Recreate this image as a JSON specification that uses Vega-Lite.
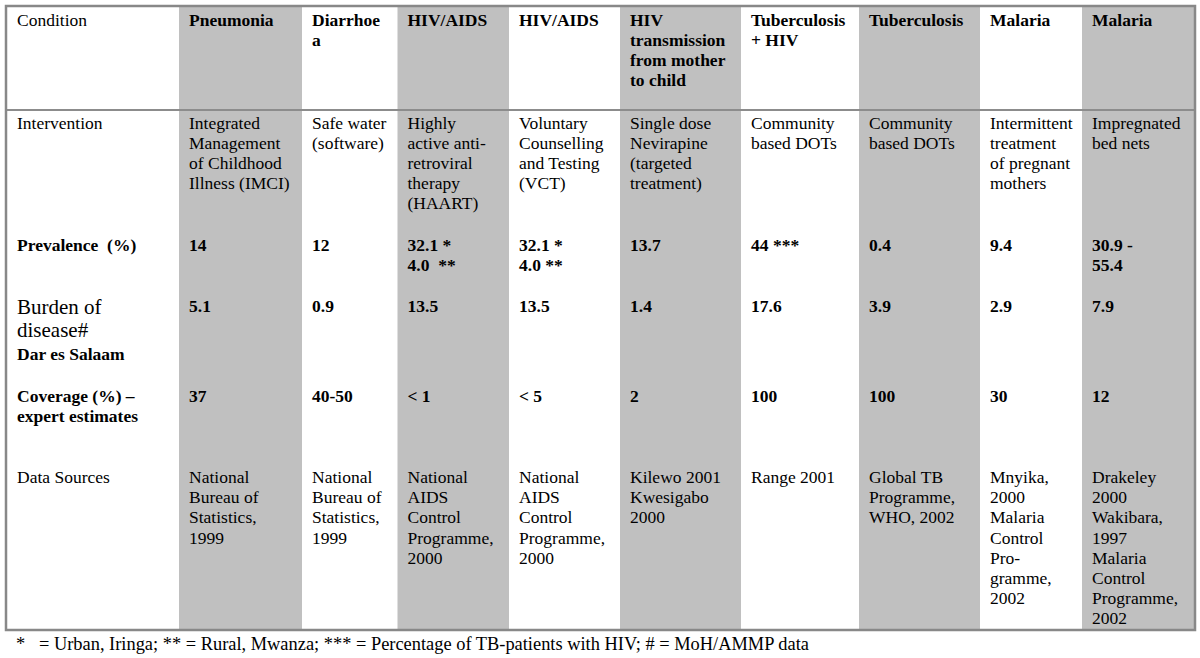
{
  "$schema": "https://vega.github.io/schema/vega-lite/v6.json",
  "width": 1200,
  "height": 658,
  "padding": 0,
  "autosize": {"type": "fit", "contains": "padding"},
  "background": "white",
  "view": {"stroke": null},
  "config": {"text": {"font": "Liberation Serif", "color": "black"}},
  "datasets": {
    "cols": [
      {"col": 0, "x0": 7, "x1": 179, "shaded": false},
      {"col": 1, "x0": 179, "x1": 302, "shaded": true},
      {"col": 2, "x0": 302, "x1": 397.5, "shaded": false},
      {"col": 3, "x0": 397.5, "x1": 509, "shaded": true},
      {"col": 4, "x0": 509, "x1": 620, "shaded": false},
      {"col": 5, "x0": 620, "x1": 741, "shaded": true},
      {"col": 6, "x0": 741, "x1": 859, "shaded": false},
      {"col": 7, "x0": 859, "x1": 980, "shaded": true},
      {"col": 8, "x0": 980, "x1": 1082, "shaded": false},
      {"col": 9, "x0": 1082, "x1": 1194, "shaded": true}
    ],
    "rows": [
      {"row": "Condition", "y": 26},
      {"row": "Intervention", "y": 128.5},
      {"row": "Prevalence", "y": 250.5},
      {"row": "Burden", "y": 311.5},
      {"row": "Coverage", "y": 401.5},
      {"row": "Sources", "y": 483}
    ],
    "cells": [
      {"row": "Condition", "col": 0, "text": "Condition"},
      {"row": "Condition", "col": 1, "text": "Pneumonia"},
      {"row": "Condition", "col": 2, "text": "Diarrhoe\na"},
      {"row": "Condition", "col": 3, "text": "HIV/AIDS"},
      {"row": "Condition", "col": 4, "text": "HIV/AIDS"},
      {"row": "Condition", "col": 5, "text": "HIV\ntransmission\nfrom mother\nto child"},
      {"row": "Condition", "col": 6, "text": "Tuberculosis\n+ HIV"},
      {"row": "Condition", "col": 7, "text": "Tuberculosis"},
      {"row": "Condition", "col": 8, "text": "Malaria"},
      {"row": "Condition", "col": 9, "text": "Malaria"},
      {"row": "Intervention", "col": 0, "text": "Intervention"},
      {"row": "Intervention", "col": 1, "text": "Integrated\nManagement\nof Childhood\nIllness (IMCI)"},
      {"row": "Intervention", "col": 2, "text": "Safe water\n(software)"},
      {"row": "Intervention", "col": 3, "text": "Highly\nactive anti-\nretroviral\ntherapy\n(HAART)"},
      {"row": "Intervention", "col": 4, "text": "Voluntary\nCounselling\nand Testing\n(VCT)"},
      {"row": "Intervention", "col": 5, "text": "Single dose\nNevirapine\n(targeted\ntreatment)"},
      {"row": "Intervention", "col": 6, "text": "Community\nbased DOTs"},
      {"row": "Intervention", "col": 7, "text": "Community\nbased DOTs"},
      {"row": "Intervention", "col": 8, "text": "Intermittent\ntreatment\nof pregnant\nmothers"},
      {"row": "Intervention", "col": 9, "text": "Impregnated\nbed nets"},
      {"row": "Prevalence", "col": 0, "text": "Prevalence\u00a0 (%)"},
      {"row": "Prevalence", "col": 1, "text": "14"},
      {"row": "Prevalence", "col": 2, "text": "12"},
      {"row": "Prevalence", "col": 3, "text": "32.1 *\n4.0\u00a0 **"},
      {"row": "Prevalence", "col": 4, "text": "32.1 *\n4.0 **"},
      {"row": "Prevalence", "col": 5, "text": "13.7"},
      {"row": "Prevalence", "col": 6, "text": "44 ***"},
      {"row": "Prevalence", "col": 7, "text": "0.4"},
      {"row": "Prevalence", "col": 8, "text": "9.4"},
      {"row": "Prevalence", "col": 9, "text": "30.9 -\n55.4"},
      {"row": "Burden", "col": 0, "text": "Burden of\ndisease#"},
      {"row": "Burden", "col": 0, "part": "sub", "text": "Dar es Salaam"},
      {"row": "Burden", "col": 1, "text": "5.1"},
      {"row": "Burden", "col": 2, "text": "0.9"},
      {"row": "Burden", "col": 3, "text": "13.5"},
      {"row": "Burden", "col": 4, "text": "13.5"},
      {"row": "Burden", "col": 5, "text": "1.4"},
      {"row": "Burden", "col": 6, "text": "17.6"},
      {"row": "Burden", "col": 7, "text": "3.9"},
      {"row": "Burden", "col": 8, "text": "2.9"},
      {"row": "Burden", "col": 9, "text": "7.9"},
      {"row": "Coverage", "col": 0, "text": "Coverage (%) –\nexpert estimates"},
      {"row": "Coverage", "col": 1, "text": "37"},
      {"row": "Coverage", "col": 2, "text": "40-50"},
      {"row": "Coverage", "col": 3, "text": "< 1"},
      {"row": "Coverage", "col": 4, "text": "< 5"},
      {"row": "Coverage", "col": 5, "text": "2"},
      {"row": "Coverage", "col": 6, "text": "100"},
      {"row": "Coverage", "col": 7, "text": "100"},
      {"row": "Coverage", "col": 8, "text": "30"},
      {"row": "Coverage", "col": 9, "text": "12"},
      {"row": "Sources", "col": 0, "text": "Data Sources"},
      {"row": "Sources", "col": 1, "text": "National\nBureau of\nStatistics,\n1999"},
      {"row": "Sources", "col": 2, "text": "National\nBureau of\nStatistics,\n1999"},
      {"row": "Sources", "col": 3, "text": "National\nAIDS\nControl\nProgramme,\n2000"},
      {"row": "Sources", "col": 4, "text": "National\nAIDS\nControl\nProgramme,\n2000"},
      {"row": "Sources", "col": 5, "text": "Kilewo 2001\nKwesigabo\n2000"},
      {"row": "Sources", "col": 6, "text": "Range 2001"},
      {"row": "Sources", "col": 7, "text": "Global TB\nProgramme,\nWHO, 2002"},
      {"row": "Sources", "col": 8, "text": "Mnyika,\n2000\nMalaria\nControl\nPro-\ngramme,\n2002"},
      {"row": "Sources", "col": 9, "text": "Drakeley\n2000\nWakibara,\n1997\nMalaria\nControl\nProgramme,\n2002"}
    ],
    "notes": [
      {"note": "*\u00a0\u00a0 = Urban, Iringa; ** = Rural, Mwanza; *** = Percentage of TB-patients with HIV; # = MoH/AMMP data"}
    ]
  },
  "resolve": {"scale": {"x": "shared", "y": "shared"}},
  "layer": [
    {
      "data": {"name": "cols"},
      "transform": [{"filter": "datum.shaded"}],
      "mark": {"type": "rect", "color": "#c0c0c0"},
      "encoding": {
        "x": {"field": "x0", "type": "quantitative", "scale": {"domain": [0, 1200], "zero": false, "nice": false}, "axis": null},
        "x2": {"field": "x1"},
        "y": {"datum": 7, "type": "quantitative", "scale": {"domain": [0, 658], "zero": false, "nice": false, "reverse": true}, "axis": null},
        "y2": {"datum": 629}
      }
    },
    {
      "data": {"values": [{}]},
      "mark": {"type": "rule", "color": "#8c8c8c", "strokeWidth": 2},
      "encoding": {
        "x": {"datum": 7, "type": "quantitative"},
        "x2": {"datum": 1194},
        "y": {"datum": 110, "type": "quantitative"}
      }
    },
    {
      "data": {"values": [{}]},
      "mark": {"type": "rect", "fill": null, "fillOpacity": 0, "stroke": "#888888", "strokeWidth": 2.5},
      "encoding": {
        "x": {"datum": 6, "type": "quantitative"},
        "x2": {"datum": 1195},
        "y": {"datum": 6, "type": "quantitative"},
        "y2": {"datum": 630}
      }
    },
    {
      "data": {"name": "cells"},
      "transform": [
        {"filter": "datum.part != 'sub' && !(datum.row == 'Burden' && datum.col == 0) && ((datum.row == 'Condition' && datum.col > 0) || datum.row == 'Prevalence' || datum.row == 'Burden' || datum.row == 'Coverage')"},
        {"lookup": "col", "from": {"data": {"name": "cols"}, "key": "col", "fields": ["x0"]}},
        {"lookup": "row", "from": {"data": {"name": "rows"}, "key": "row", "fields": ["y"]}}
      ],
      "mark": {"type": "text", "font": "Liberation Serif", "align": "left", "baseline": "alphabetic", "dx": 10, "fontSize": 17.5, "fontWeight": "bold", "lineBreak": "\n", "lineHeight": 20},
      "encoding": {
        "x": {"field": "x0", "type": "quantitative"},
        "y": {"field": "y", "type": "quantitative"},
        "text": {"field": "text"}
      }
    },
    {
      "data": {"name": "cells"},
      "transform": [
        {"filter": "(datum.row == 'Condition' && datum.col == 0) || datum.row == 'Intervention' || datum.row == 'Sources'"},
        {"lookup": "col", "from": {"data": {"name": "cols"}, "key": "col", "fields": ["x0"]}},
        {"lookup": "row", "from": {"data": {"name": "rows"}, "key": "row", "fields": ["y"]}}
      ],
      "mark": {"type": "text", "font": "Liberation Serif", "align": "left", "baseline": "alphabetic", "dx": 10, "fontSize": 17.5, "lineBreak": "\n", "lineHeight": 20.2},
      "encoding": {
        "x": {"field": "x0", "type": "quantitative"},
        "y": {"field": "y", "type": "quantitative"},
        "text": {"field": "text"}
      }
    },
    {
      "data": {"name": "cells"},
      "transform": [
        {"filter": "datum.row == 'Burden' && datum.col == 0 && datum.part != 'sub'"},
        {"lookup": "col", "from": {"data": {"name": "cols"}, "key": "col", "fields": ["x0"]}},
        {"lookup": "row", "from": {"data": {"name": "rows"}, "key": "row", "fields": ["y"]}}
      ],
      "mark": {"type": "text", "font": "Liberation Serif", "align": "left", "baseline": "alphabetic", "dx": 10, "dy": 2.5, "fontSize": 21, "lineBreak": "\n", "lineHeight": 23.3},
      "encoding": {
        "x": {"field": "x0", "type": "quantitative"},
        "y": {"field": "y", "type": "quantitative"},
        "text": {"field": "text"}
      }
    },
    {
      "data": {"name": "cells"},
      "transform": [
        {"filter": "datum.part == 'sub'"},
        {"lookup": "col", "from": {"data": {"name": "cols"}, "key": "col", "fields": ["x0"]}},
        {"lookup": "row", "from": {"data": {"name": "rows"}, "key": "row", "fields": ["y"]}}
      ],
      "mark": {"type": "text", "font": "Liberation Serif", "align": "left", "baseline": "alphabetic", "dx": 10, "dy": 48.5, "fontSize": 17.5, "fontWeight": "bold"},
      "encoding": {
        "x": {"field": "x0", "type": "quantitative"},
        "y": {"field": "y", "type": "quantitative"},
        "text": {"field": "text"}
      }
    },
    {
      "data": {"name": "notes"},
      "mark": {"type": "text", "font": "Liberation Serif", "align": "left", "baseline": "alphabetic", "fontSize": 18.4},
      "encoding": {
        "x": {"datum": 16, "type": "quantitative"},
        "y": {"datum": 650, "type": "quantitative"},
        "text": {"field": "note"}
      }
    }
  ]
}
